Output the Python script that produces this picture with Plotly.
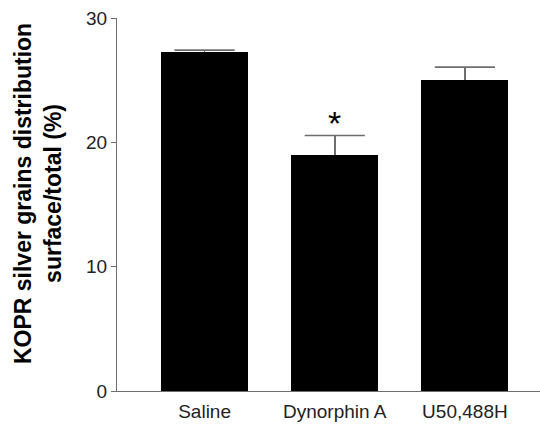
import plotly.graph_objects as go

categories = ["Saline", "Dynorphin A", "U50,488H"]
means = [27.3, 19.0, 25.0]
errors = [0.12, 1.55, 1.05]
y_ticks = [0, 10, 20, 30]
sig_label = "*"
sig_index = 1
sig_y = 19.9
y_title = "KOPR silver grains distribution<br>surface/total (%)"

x_idx = list(range(len(categories)))
err_top = [m + e for m, e in zip(means, errors)]

fig = go.Figure()
fig.add_trace(go.Bar(
    x=x_idx,
    y=means,
    width=0.667,
    marker=dict(color="black", line=dict(width=0)),
    error_y=dict(type="data", array=errors, symmetric=False, arrayminus=[0]*len(means),
                 color="#6e6e6e", thickness=1.6, width=0),
    showlegend=False,
    hoverinfo="skip",
))
# error bar caps (top only)
fig.add_trace(go.Scatter(
    x=x_idx, y=err_top, mode="markers",
    marker=dict(symbol="line-ew", size=43, color="#6e6e6e",
                line=dict(color="#6e6e6e", width=1.6)),
    showlegend=False, hoverinfo="skip",
))

fig.add_annotation(x=sig_index, y=sig_y, text=sig_label, showarrow=False,
                   xref="x", yref="y", yanchor="bottom",
                   font=dict(family="Liberation Sans, Arial", size=34, color="black"))

fig.add_annotation(x=-0.185, y=0.53, xref="paper", yref="paper",
                   text="<b>" + y_title + "</b>", showarrow=False, textangle=-90,
                   xanchor="center", yanchor="middle",
                   font=dict(family="Liberation Sans, Arial", size=23, color="black"))

fig.update_layout(
    width=540, height=424,
    margin=dict(l=117, r=0, t=18, b=33),
    paper_bgcolor="white", plot_bgcolor="white",
    font=dict(family="Liberation Sans, Arial", color="#222222"),
    bargap=0,
)
fig.update_xaxes(
    range=[-0.673, 2.577],
    tickvals=x_idx, ticktext=categories,
    showline=True, linecolor="#6e6e6e", linewidth=1.3,
    ticks="outside", ticklen=3, tickcolor="rgba(0,0,0,0)",
    tickfont=dict(size=19, color="#222222"),
    showgrid=False, zeroline=False,
)
fig.update_yaxes(
    range=[0, 30], tickvals=y_ticks,
    showline=True, linecolor="#6e6e6e", linewidth=1.3,
    ticks="outside", ticklen=5, tickcolor="#6e6e6e", tickwidth=1.3,
    tickfont=dict(size=19, color="#222222"),
    showgrid=False, zeroline=False,
)

fig.write_html("out.html", config={"displayModeBar": False},
               post_script="document.body.style.margin='0';")
